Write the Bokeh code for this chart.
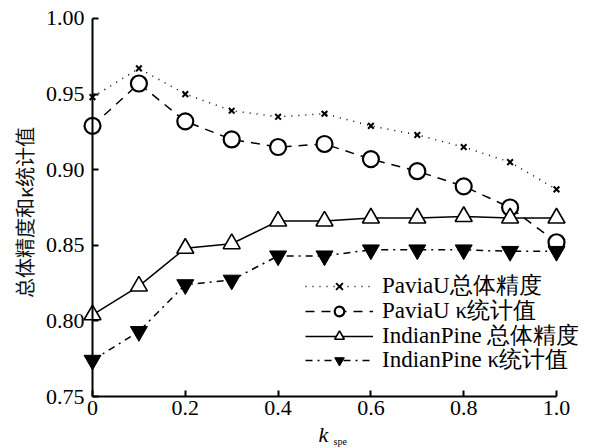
from bokeh.plotting import figure
from bokeh.models import Range1d, LinearAxis, FixedTicker, Legend, LegendItem, Label
from bokeh.embed import file_html
from bokeh.resources import INLINE
import math

k_spe = [0.0, 0.1, 0.2, 0.3, 0.4, 0.5, 0.6, 0.7, 0.8, 0.9, 1.0]
paviau_oa = [0.948, 0.967, 0.950, 0.939, 0.935, 0.937, 0.929, 0.923, 0.915, 0.905, 0.887]
paviau_kappa = [0.929, 0.957, 0.932, 0.920, 0.915, 0.917, 0.907, 0.899, 0.889, 0.875, 0.852]
indian_oa = [0.804, 0.823, 0.848, 0.851, 0.866, 0.866, 0.868, 0.868, 0.869, 0.868, 0.868]
indian_kappa = [0.774, 0.793, 0.824, 0.827, 0.843, 0.843, 0.847, 0.847, 0.847, 0.846, 0.846]

x_ticks = [0, 0.2, 0.4, 0.6, 0.8, 1.0]
x_tick_labels = ["0", "0.2", "0.4", "0.6", "0.8", "1.0"]
y_ticks = [0.75, 0.80, 0.85, 0.90, 0.95, 1.00]
y_tick_labels = ["0.75", "0.80", "0.85", "0.90", "0.95", "1.00"]

series_names = ["PaviaU总体精度", "PaviaU κ统计值", "IndianPine 总体精度", "IndianPine κ统计值"]
y_title = "总体精度和κ统计值"

FONT = "Liberation Serif"

p = figure(width=596, height=448, output_backend="svg", toolbar_location=None,
           x_range=Range1d(-0.19828, 1.08621), y_range=Range1d(0.71561, 1.0119),
           x_axis_location=None, y_axis_location=None,
           min_border_left=0, min_border_right=0, min_border_top=0, min_border_bottom=0)
p.outline_line_color = None
p.grid.visible = False
p.background_fill_color = "white"

xaxis = LinearAxis(fixed_location=0.75, bounds=(0, 1.0),
                   ticker=FixedTicker(ticks=x_ticks),
                   major_label_overrides={t: l for t, l in zip(x_ticks, x_tick_labels)})
yaxis = LinearAxis(fixed_location=0.0, bounds=(0.75, 1.0),
                   ticker=FixedTicker(ticks=y_ticks),
                   major_label_overrides={t: l for t, l in zip(y_ticks, y_tick_labels)})
for ax in (xaxis, yaxis):
    ax.axis_line_width = 2
    ax.axis_line_color = "black"
    ax.major_tick_in = 6
    ax.major_tick_out = 0
    ax.major_tick_line_width = 2
    ax.minor_tick_line_color = None
    ax.major_label_text_font = FONT
    ax.major_label_text_font_size = "22px"
    ax.major_label_text_color = "black"
xaxis.major_label_standoff = 4
yaxis.major_label_standoff = 8
p.add_layout(xaxis, "below")
p.add_layout(yaxis, "left")

r1 = p.line(k_spe, paviau_oa, line_color="black", line_width=1.5, line_dash="1 6")
m1 = p.scatter(k_spe, paviau_oa, marker="x", size=8, line_color="black", line_width=2)
r2 = p.line(k_spe, paviau_kappa, line_color="black", line_width=1.5, line_dash="9 7")
m2 = p.scatter(k_spe, paviau_kappa, marker="circle", size=16, line_color="black",
               fill_color="white", line_width=2.2)
r3 = p.line(k_spe, indian_oa, line_color="black", line_width=1.5)
m3 = p.scatter(k_spe, indian_oa, marker="triangle", size=17, line_color="black",
               fill_color="white", line_width=1.6)
r4 = p.line(k_spe, indian_kappa, line_color="black", line_width=1.5, line_dash="7 5 2 5")
m4 = p.scatter(k_spe, indian_kappa, marker="inverted_triangle", size=17, line_color="black",
               fill_color="black", line_width=1)

# one legend per row so that rows can sit closer than the font's line height
row_bottoms = [147, 122, 97, 73]
for name, rends, yb in zip(series_names, [[r1, m1], [r2, m2], [r3, m3], [r4, m4]], row_bottoms):
    lg = Legend(items=[LegendItem(label=name, renderers=rends)], location=(305, yb))
    lg.label_text_font = FONT
    lg.label_text_font_size = "23px"
    lg.label_text_color = "black"
    lg.glyph_width = 68
    lg.glyph_height = 24
    lg.label_height = 24
    lg.label_standoff = 9
    lg.spacing = 0
    lg.padding = 0
    lg.margin = 0
    lg.border_line_color = None
    lg.background_fill_alpha = 0
    p.add_layout(lg, "center")

p.add_layout(Label(x=-0.1466, y=0.8717, text=y_title, angle=math.pi / 2,
                   text_align="center", text_baseline="middle",
                   text_font="Noto Sans CJK SC", text_font_size="20px", text_color="#111111"))
p.add_layout(Label(x=0.4978, y=0.7248, text="k", text_align="center", text_baseline="middle",
                   text_font=FONT, text_font_style="italic",
                   text_font_size="22px", text_color="black"))
p.add_layout(Label(x=0.534, y=0.7205, text="spe", text_align="center", text_baseline="middle",
                   text_font=FONT, text_font_size="10px", text_color="black"))

open("out.html", "w").write(file_html(p, INLINE))
